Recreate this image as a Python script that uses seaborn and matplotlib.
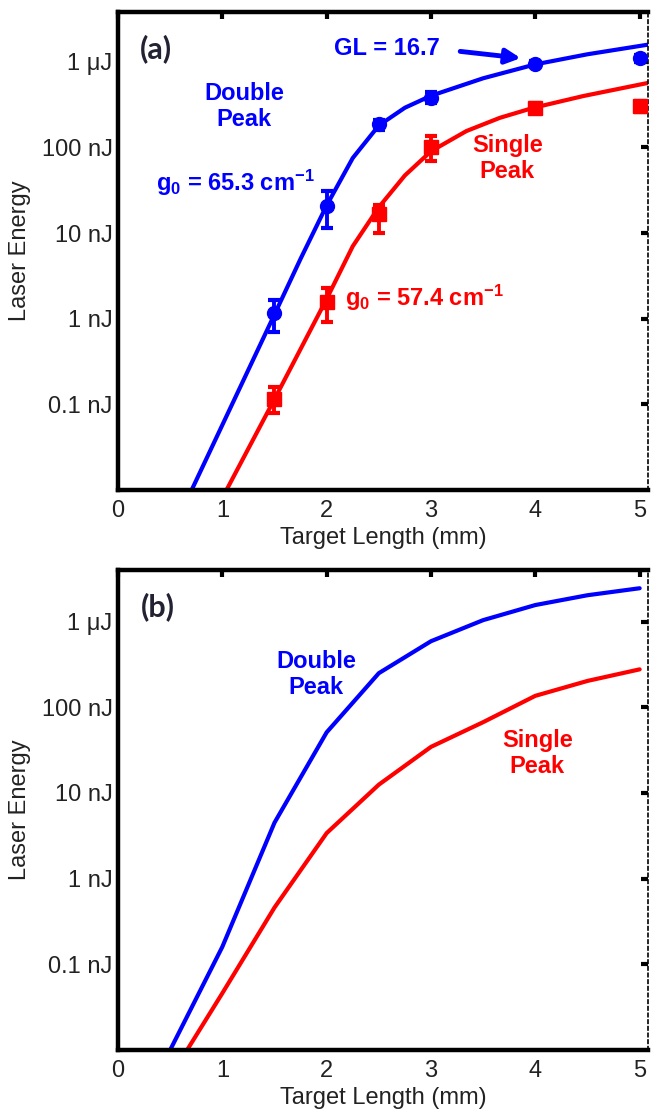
import numpy as np
import pandas as pd
import matplotlib
matplotlib.use("Agg")
import matplotlib.pyplot as plt
import seaborn as sns

# ---------------- data (energies in nJ, length in mm) ----------------
# Panel (a): fitted curves
a_blue_fit_x = [0.706, 1.5, 1.75, 2.0, 2.25, 2.5, 2.75, 3.0, 3.5, 4.0, 4.5, 5.08]
a_blue_fit_y = [0.01, 1.12, 5.0, 21, 75, 180, 290, 400, 640, 930, 1220, 1580]
a_red_fit_x = [1.04, 1.5, 2.0, 2.25, 2.5, 2.75, 3.0, 3.34, 3.66, 3.98, 4.46, 5.08]
a_red_fit_y = [0.01, 0.115, 1.7, 7.0, 20, 47, 90, 155, 221, 289, 397, 565]

# Panel (a): measured points with error bars
a_blue_x = [1.5, 2.0, 2.5, 3.0, 4.0, 5.0]
a_blue_y = [1.15, 20.5, 185, 380, 950, 1110]
a_blue_lo = [0.70, 11.4, 160, 330, 880, 1000]
a_blue_hi = [1.64, 31, 210, 440, 1030, 1200]
a_red_x = [1.5, 2.0, 2.5, 3.0, 4.0, 5.0]
a_red_y = [0.115, 1.58, 16.5, 100, 290, 300]
a_red_lo = [0.08, 0.92, 10, 70, 260, 260]
a_red_hi = [0.158, 2.25, 21, 136, 325, 345]

# Panel (b): simulated curves
b_x = [0.5, 1.0, 1.5, 2.0, 2.5, 3.0, 3.5, 4.0, 4.5, 5.0]
b_blue_y = [0.01, 0.16, 4.5, 51, 250, 590, 1040, 1560, 2030, 2450]
b_red_y = [0.0048, 0.046, 0.46, 3.4, 12.5, 34.5, 67, 136, 203, 277]

yticks = [0.1, 1, 10, 100, 1000]
yticklabels = ["0.1 nJ", "1 nJ", "10 nJ", "100 nJ", "1 \u03bcJ"]
xticks = [0, 1, 2, 3, 4, 5]

# ---------------- style ----------------
sns.set_theme(style="white")
plt.rcParams["font.family"] = ["Liberation Sans", "DejaVu Sans"]
plt.rcParams["mathtext.fontset"] = "custom"
plt.rcParams["mathtext.rm"] = "Liberation Sans:bold"
plt.rcParams["mathtext.it"] = "Liberation Sans:bold"
plt.rcParams["mathtext.bf"] = "Liberation Sans:bold"
plt.rcParams["mathtext.default"] = "rm"

BLUE = "#0000ff"
RED = "#ff0000"
FS = 17

fig = plt.figure(figsize=(6.51, 11.11), dpi=100)
ax_a = fig.add_axes([118 / 651, 1 - 490 / 1111, 530 / 651, 478 / 1111])
ax_b = fig.add_axes([118 / 651, 1 - 1050 / 1111, 530 / 651, 480 / 1111])


def style_axes(ax, ymax):
    ax.set_yscale("log")
    ax.set_xlim(0, 5.08)
    ax.set_ylim(0.01, ymax)
    ax.set_yticks(yticks)
    ax.set_yticklabels(yticklabels)
    ax.set_xticks(xticks)
    ax.set_xticklabels([str(t) for t in xticks])
    ax.minorticks_off()
    ax.tick_params(axis="both", which="major", direction="in", length=5, width=3,
                   top=True, right=True, labelsize=FS, colors="black",
                   labelcolor="#222222")
    ax.tick_params(axis="x", pad=7)
    ax.tick_params(axis="y", pad=4)
    for side in ["left", "bottom", "top"]:
        ax.spines[side].set_linewidth(3.2)
        ax.spines[side].set_color("black")
        ax.spines[side].set_visible(True)
    ax.spines["right"].set_visible(True)
    ax.spines["right"].set_linewidth(1.2)
    ax.spines["right"].set_linestyle((0, (2, 2)))
    ax.spines["right"].set_color("black")
    ax.set_xlabel("Target Length (mm)", fontsize=FS, color="#222222")
    ax.set_ylabel("Laser Energy", fontsize=FS, color="#222222")
    ax.xaxis.set_label_coords(0.5, -0.077)
    ax.yaxis.set_label_coords(-0.165, 0.5)
    ax.set_facecolor("white")
    ax.grid(False)


# ---------------- panel (a) ----------------
sns.lineplot(x=a_blue_fit_x, y=a_blue_fit_y, ax=ax_a, color=BLUE, lw=3,
             sort=False, estimator=None)
sns.lineplot(x=a_red_fit_x, y=a_red_fit_y, ax=ax_a, color=RED, lw=3,
             sort=False, estimator=None)

for xs, ys, lo, hi, col, mk in [
    (a_blue_x, a_blue_y, a_blue_lo, a_blue_hi, BLUE, "o"),
    (a_red_x, a_red_y, a_red_lo, a_red_hi, RED, "s"),
]:
    ys_a = np.array(ys)
    yerr = np.vstack([ys_a - np.array(lo), np.array(hi) - ys_a])
    ax_a.errorbar(xs, ys, yerr=yerr, fmt=mk, color=col, ms=10, elinewidth=2.8,
                  capsize=4, capthick=3, clip_on=False, zorder=4)

style_axes(ax_a, 3800)

ax_a.text(0.36, 1400, "(a)", fontsize=22, fontweight="bold", color="#222233",
          family=["Lato", "DejaVu Sans"], ha="center", va="center")
ax_a.text(2.58, 1430, "GL = 16.7", fontsize=FS, fontweight="bold", color=BLUE,
          ha="center", va="center")
ax_a.annotate("", xy=(3.86, 1100), xytext=(3.28, 1318),
              arrowprops=dict(arrowstyle="-|>", color=BLUE, lw=3.5,
                              mutation_scale=22, shrinkA=0, shrinkB=0))
ax_a.text(1.21, 300, "Double\nPeak", fontsize=FS, fontweight="bold", color=BLUE,
          ha="center", va="center", linespacing=1.15)
ax_a.text(0.36, 38, "g$_0$ = 65.3 cm$^{-1}$", fontsize=FS, fontweight="bold",
          color=BLUE, ha="left", va="center")
ax_a.text(3.73, 74, "Single\nPeak", fontsize=FS, fontweight="bold", color=RED,
          ha="center", va="center", linespacing=1.15)
ax_a.text(2.18, 1.75, "g$_0$ = 57.4 cm$^{-1}$", fontsize=FS, fontweight="bold",
          color=RED, ha="left", va="center")

# ---------------- panel (b) ----------------
sns.lineplot(x=b_x, y=b_blue_y, ax=ax_b, color=BLUE, lw=3, sort=False,
             estimator=None)
sns.lineplot(x=b_x, y=b_red_y, ax=ax_b, color=RED, lw=3, sort=False,
             estimator=None)
style_axes(ax_b, 4000)

ax_b.text(0.38, 1490, "(b)", fontsize=22, fontweight="bold", color="#222233",
          family=["Lato", "DejaVu Sans"], ha="center", va="center")
ax_b.text(1.9, 243, "Double\nPeak", fontsize=FS, fontweight="bold", color=BLUE,
          ha="center", va="center", linespacing=1.15)
ax_b.text(4.02, 29, "Single\nPeak", fontsize=FS, fontweight="bold", color=RED,
          ha="center", va="center", linespacing=1.15)

fig.savefig("out.png", dpi=100, facecolor="white")
